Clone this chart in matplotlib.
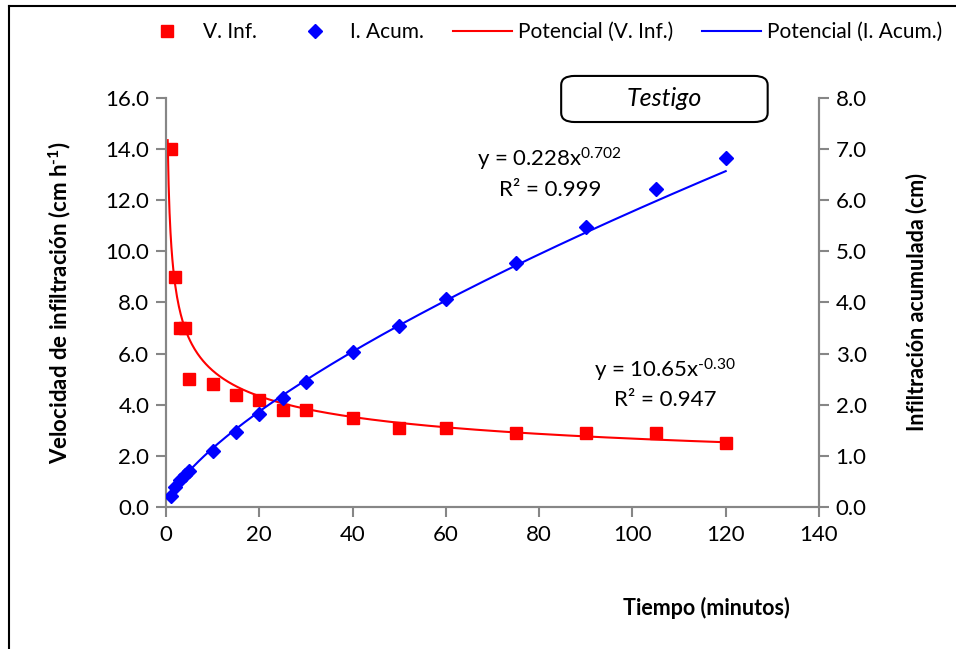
import numpy as np
import matplotlib.pyplot as plt
from matplotlib.patches import FancyBboxPatch
from matplotlib.lines import Line2D

plt.rcParams['font.family'] = ['Lato', 'DejaVu Sans']
plt.rcParams['mathtext.fontset'] = 'custom'
plt.rcParams['mathtext.rm'] = 'Lato'
plt.rcParams['mathtext.it'] = 'Lato:italic'
plt.rcParams['mathtext.bf'] = 'Lato:bold'

tiempo = [1, 2, 3, 4, 5, 10, 15, 20, 25, 30, 40, 50, 60, 75, 90, 105, 120]
v_inf = [14.0, 9.0, 7.0, 7.0, 5.0, 4.8, 4.4, 4.2, 3.8, 3.8, 3.5, 3.1, 3.1, 2.9, 2.9, 2.9, 2.5]
i_acum = [0.22, 0.40, 0.53, 0.63, 0.70, 1.10, 1.47, 1.82, 2.13, 2.45, 3.03, 3.54, 4.07, 4.77, 5.48, 6.22, 6.83]

# coeficientes de las lineas de tendencia (potencial)
a_v, b_v = 10.65, -0.30
a_i, b_i = 0.228, 0.702

gray = '#868686'

fig = plt.figure(figsize=(9.56, 6.49), dpi=100)
ax = fig.add_axes([0.1736, 0.2188, 0.6831, 0.6302])
ax2 = ax.twinx()

xv = np.linspace(0.37, 120, 600)
ax.plot(xv, a_v * xv ** b_v, color='red', lw=1.5, zorder=2)
ax.plot(tiempo, v_inf, 's', color='red', ms=9, zorder=3)

xi = np.linspace(1, 120, 400)
ax2.plot(xi, a_i * xi ** b_i, color='blue', lw=1.5, zorder=2)
ax2.plot(tiempo, i_acum, 'D', color='blue', ms=7, zorder=3)

ax.set_xlim(0, 140)
ax.set_ylim(0, 16)
ax2.set_ylim(0, 8)
ax.set_xticks(range(0, 141, 20))
ax.set_yticks(np.arange(0, 16.1, 2))
ax2.set_yticks(np.arange(0, 8.1, 1))
ax.set_yticklabels([f'{v:.1f}' for v in np.arange(0, 16.1, 2)])
ax2.set_yticklabels([f'{v:.1f}' for v in np.arange(0, 8.1, 1)])

for a in (ax, ax2):
    a.spines['top'].set_visible(False)
    for s in ('left', 'right', 'bottom'):
        a.spines[s].set_color(gray)
        a.spines[s].set_linewidth(1.5)
    a.tick_params(colors=gray, labelcolor='black', labelsize=16, width=1.5, length=7)
ax.tick_params(axis='x', pad=6)
ax.tick_params(axis='y', pad=5)
ax2.tick_params(axis='y', pad=5)

ax.set_ylabel('Velocidad de infiltración (cm h$^{\\mathbf{\u20101}}$)', fontsize=16, fontweight='bold')
ax2.set_ylabel('Infiltración acumulada (cm)', fontsize=15.5, fontweight='bold')
ax.yaxis.set_label_coords(-0.143, 0.5)
ax2.yaxis.set_label_coords(1.133, 0.5)
ax.set_xlabel('Tiempo (minutos)', fontsize=15.5, fontweight='bold')
ax.xaxis.set_label_coords(0.828, -0.22)

ax.text(82.3, 13.6, 'y = 0.228x$^{\\mathrm{0.702}}$', fontsize=16, ha='center', va='center')
ax.text(82.3, 12.4, 'R² = 0.999', fontsize=16, ha='center', va='center')
ax.text(107, 5.36, 'y = 10.65x$^{\\mathrm{\u20100.30}}$', fontsize=16, ha='center', va='center')
ax.text(107, 4.19, 'R² = 0.947', fontsize=16, ha='center', va='center')

box = FancyBboxPatch((0.587, 0.812), 0.216, 0.071, transform=fig.transFigure,
                     boxstyle='round,pad=0,rounding_size=0.014',
                     facecolor='white', edgecolor='black', lw=1.5)
fig.patches.append(box)
fig.text(0.695, 0.848, 'Testigo', fontsize=18, style='italic', ha='center', va='center')

handles = [
    Line2D([], [], ls='none', marker='s', color='red', ms=9),
    Line2D([], [], ls='none', marker='D', color='blue', ms=7),
    Line2D([], [], color='red', lw=1.5),
    Line2D([], [], color='blue', lw=1.5),
]
labels = ['V. Inf.', 'I. Acum.', 'Potencial (V. Inf.)', 'Potencial (I. Acum.)']
fig.legend(handles, labels, loc='center', bbox_to_anchor=(0.565, 0.951), ncol=4,
           frameon=False, fontsize=15, handlelength=2.8, columnspacing=1.4, handletextpad=0.3)

# marco exterior
fig.add_artist(Line2D([0.009, 0.009], [0, 0.99], color='black', lw=1.5, transform=fig.transFigure))
fig.add_artist(Line2D([0.009, 1.0], [0.99, 0.99], color='black', lw=1.5, transform=fig.transFigure))

fig.savefig('out.png', dpi=100)
